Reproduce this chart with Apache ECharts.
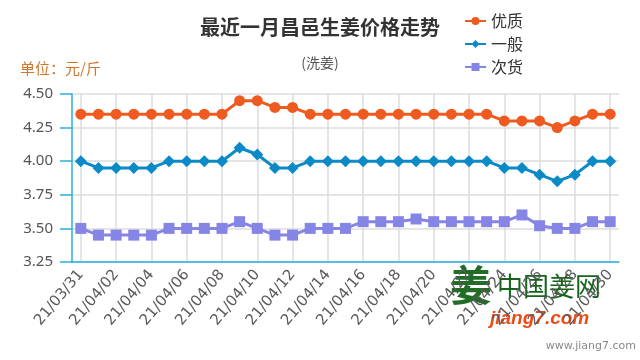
<!DOCTYPE html>
<html><head><meta charset="utf-8">
<script src="https://cdn.jsdelivr.net/npm/echarts@6/dist/echarts.min.js"></script>
<style>html,body{margin:0;padding:0;background:#fff}#c{width:640px;height:360px}</style>
</head><body><div id="c"></div>
<script>
const categories = ['21/03/31','21/04/01','21/04/02','21/04/03','21/04/04','21/04/05','21/04/06','21/04/07','21/04/08','21/04/09','21/04/10','21/04/11','21/04/12','21/04/13','21/04/14','21/04/15','21/04/16','21/04/17','21/04/18','21/04/19','21/04/20','21/04/21','21/04/22','21/04/23','21/04/24','21/04/25','21/04/26','21/04/27','21/04/28','21/04/29','21/04/30'];
const youzhi = [4.35,4.35,4.35,4.35,4.35,4.35,4.35,4.35,4.35,4.45,4.45,4.40,4.40,4.35,4.35,4.35,4.35,4.35,4.35,4.35,4.35,4.35,4.35,4.35,4.30,4.30,4.30,4.25,4.30,4.35,4.35];
const yiban = [4.00,3.95,3.95,3.95,3.95,4.00,4.00,4.00,4.00,4.10,4.05,3.95,3.95,4.00,4.00,4.00,4.00,4.00,4.00,4.00,4.00,4.00,4.00,4.00,3.95,3.95,3.90,3.85,3.90,4.00,4.00];
const cihuo = [3.50,3.45,3.45,3.45,3.45,3.50,3.50,3.50,3.50,3.55,3.50,3.45,3.45,3.50,3.50,3.50,3.55,3.55,3.55,3.57,3.55,3.55,3.55,3.55,3.55,3.60,3.52,3.50,3.50,3.55,3.55];
const seriesNames = ['优质','一般','次货'];

const chart = echarts.init(document.getElementById('c'), null, {renderer:'canvas'});
const axisBlue = '#2aaee3';
chart.setOption({
  animation: false,
  color: ['#ee5a1f','#0a8ac6','#8585e6'],
  title: {
    text: '最近一月昌邑生姜价格走势',
    subtext: '(洗姜)',
    left: 'center', top: 12, itemGap: 19,
    textStyle: {fontSize: 20, fontWeight: 'bold', color: '#333', fontFamily: 'Noto Sans CJK SC'},
    subtextStyle: {fontSize: 14, color: '#555', fontFamily: 'Noto Sans CJK SC'}
  },
  legend: {
    orient: 'vertical', left: 459, top: 8, itemWidth: 21, itemHeight: 10, itemGap: 7,
    textStyle: {fontSize: 16, color: '#333', fontFamily: 'Noto Sans CJK SC'},
    data: seriesNames
  },
  grid: {left: 72, right: 21, top: 94, bottom: 98},
  xAxis: {
    type: 'category', data: categories, boundaryGap: true,
    axisLine: {lineStyle: {color: axisBlue, width: 1.5}},
    axisTick: {alignWithLabel: true, interval: 1, length: 11, lineStyle: {color: axisBlue, width: 1.5}},
    axisLabel: {interval: 1, rotate: 50, fontSize: 15, color: '#5a5a5a', margin: 10, fontFamily: 'DejaVu Sans'},
    splitLine: {show: true, interval: 1, alignWithLabel: true, lineStyle: {color: '#dcdcdc', width: 1.5}}
  },
  yAxis: {
    type: 'value', min: 3.25, max: 4.5, interval: 0.25,
    axisLine: {show: true, lineStyle: {color: axisBlue, width: 1.5}},
    axisTick: {show: true, length: 12, lineStyle: {color: axisBlue, width: 1.5}},
    axisLabel: {fontSize: 15, color: '#555', margin: 19, formatter: v => v.toFixed(2), fontFamily: 'Noto Sans'},
    splitLine: {lineStyle: {color: '#dcdcdc', width: 1.5}}
  },
  graphic: [
    {type: 'text', left: 20, top: 61, style: {text: '单位：元/斤', fontSize: 15, fill: '#d0752a', fontFamily: 'Noto Sans CJK SC'}},
    {type: 'text', left: 450, top: 264, style: {text: '姜', fontSize: 42, fontWeight: 'bold', fill: '#15651a', fontFamily: 'Noto Sans CJK SC', opacity: 0.95}},
    {type: 'text', left: 497, top: 273, style: {text: '中国姜网', fontSize: 26, fill: '#15651a', fontFamily: 'Noto Sans CJK SC'}},
    {type: 'text', left: 490, top: 309, style: {text: 'jiang7.com', fontSize: 19, fontWeight: 'bold', fontStyle: 'italic', fill: '#ee4a16', fontFamily: 'Liberation Sans'}},
    {type: 'text', right: 4, top: 341, style: {text: 'www.jiang7.com', fontSize: 11, fill: '#888', fontFamily: 'DejaVu Sans'}}
  ],
  series: [
    {name: seriesNames[0], type: 'line', data: youzhi, symbol: 'circle', symbolSize: 11, showAllSymbol: true, lineStyle: {width: 3}},
    {name: seriesNames[1], type: 'line', data: yiban, symbol: 'diamond', symbolSize: 12, showAllSymbol: true, lineStyle: {width: 3}},
    {name: seriesNames[2], type: 'line', data: cihuo, symbol: 'rect', symbolSize: 11, showAllSymbol: true, lineStyle: {width: 3}}
  ]
});
</script></body></html>
